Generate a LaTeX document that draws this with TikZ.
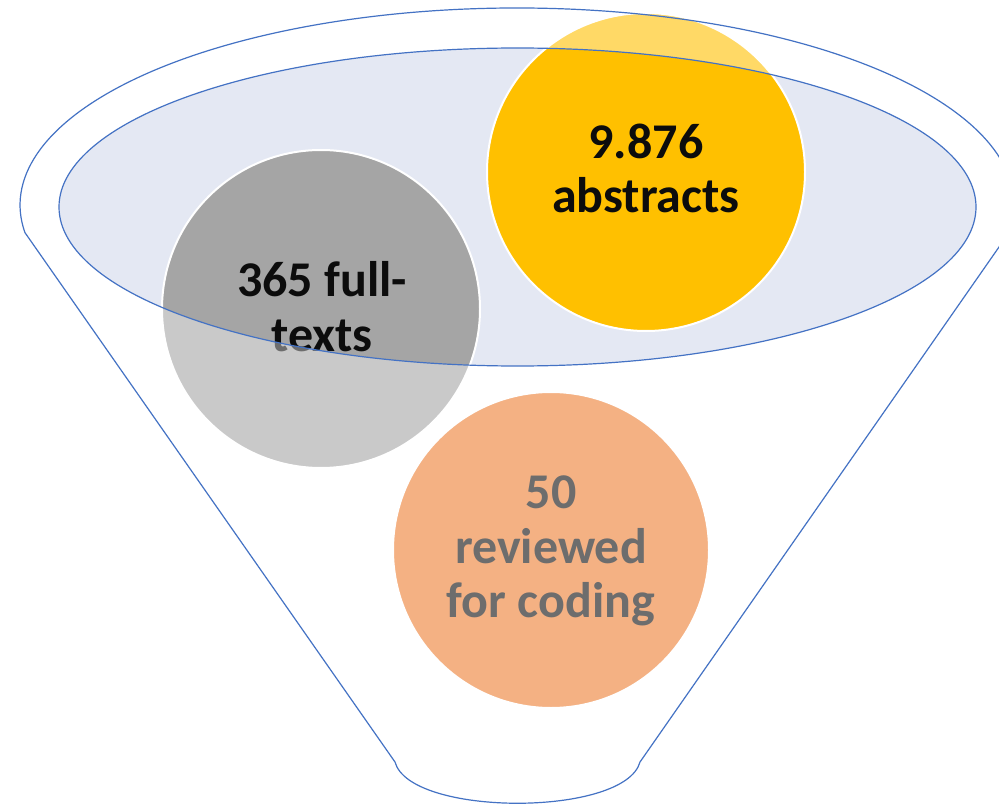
\documentclass[tikz,border=0pt]{standalone}
\usepackage{fontspec}
\setmainfont{Carlito}
\definecolor{funnelblue}{HTML}{4472C4}
\definecolor{ellfill}{HTML}{E4E8F3}
\definecolor{cyellow}{HTML}{FFC000}
\definecolor{cgray}{HTML}{A5A5A5}
\definecolor{corange}{HTML}{ED7D31}
\definecolor{txt}{HTML}{0C0C0C}
\tikzset{
  bubble/.style={circle, draw=white, line width=2pt, inner sep=0pt, minimum size=318pt},
  lbl/.style={anchor=base, inner sep=0pt, text=txt, font=\bfseries\fontsize{50}{54.5}\selectfont},
  outline/.style={draw=funnelblue, line width=1.2pt}
}
\begin{document}
\begin{tikzpicture}[x=1pt,y=-1pt]
\useasboundingbox (0,0) rectangle (999,805);
\fill[white] (0,0) rectangle (999,805);
% top opening
\fill[ellfill] (517.5,207) ellipse [x radius=458.5, y radius=159];
% circles
\node[bubble, fill=cyellow] (abs) at (646,172) {};
\node[bubble, fill=cgray] (full) at (321,309) {};
\node[bubble, fill=corange, minimum size=316pt] (rev) at (551,550) {};
% texts
\node[lbl] (t1) at (646,159) {9.876};
\node[lbl] (t2) at (646,213) {abstracts};
\node[lbl] (t3) at (322,297) {365 full-};
\node[lbl] (t4) at (322,351) {texts};
\node[lbl] (t5) at (551,508) {50};
\node[lbl] (t6) at (551,563) {reviewed};
\node[lbl] (t7) at (551,617) {for coding};
% wash over funnel body
\fill[white, fill opacity=0.4, even odd rule] (0,0) rectangle (999,805)
  (517.5,207) ellipse [x radius=458.5, y radius=159];
% outlines
\draw[outline] (517.5,207) ellipse [x radius=458.5, y radius=159];
\coordinate (L) at (24.8,232.4);
\coordinate (BL) at (395,762);
\coordinate (BR) at (640,762);
\draw[outline, line join=round] (L) -- (BL) .. controls (410,817) and (625,817) .. (BR)
  -- (1009.2,232.4) arc[start angle=8, end angle=-188, x radius=497, y radius=197];
\end{tikzpicture}
\end{document}
